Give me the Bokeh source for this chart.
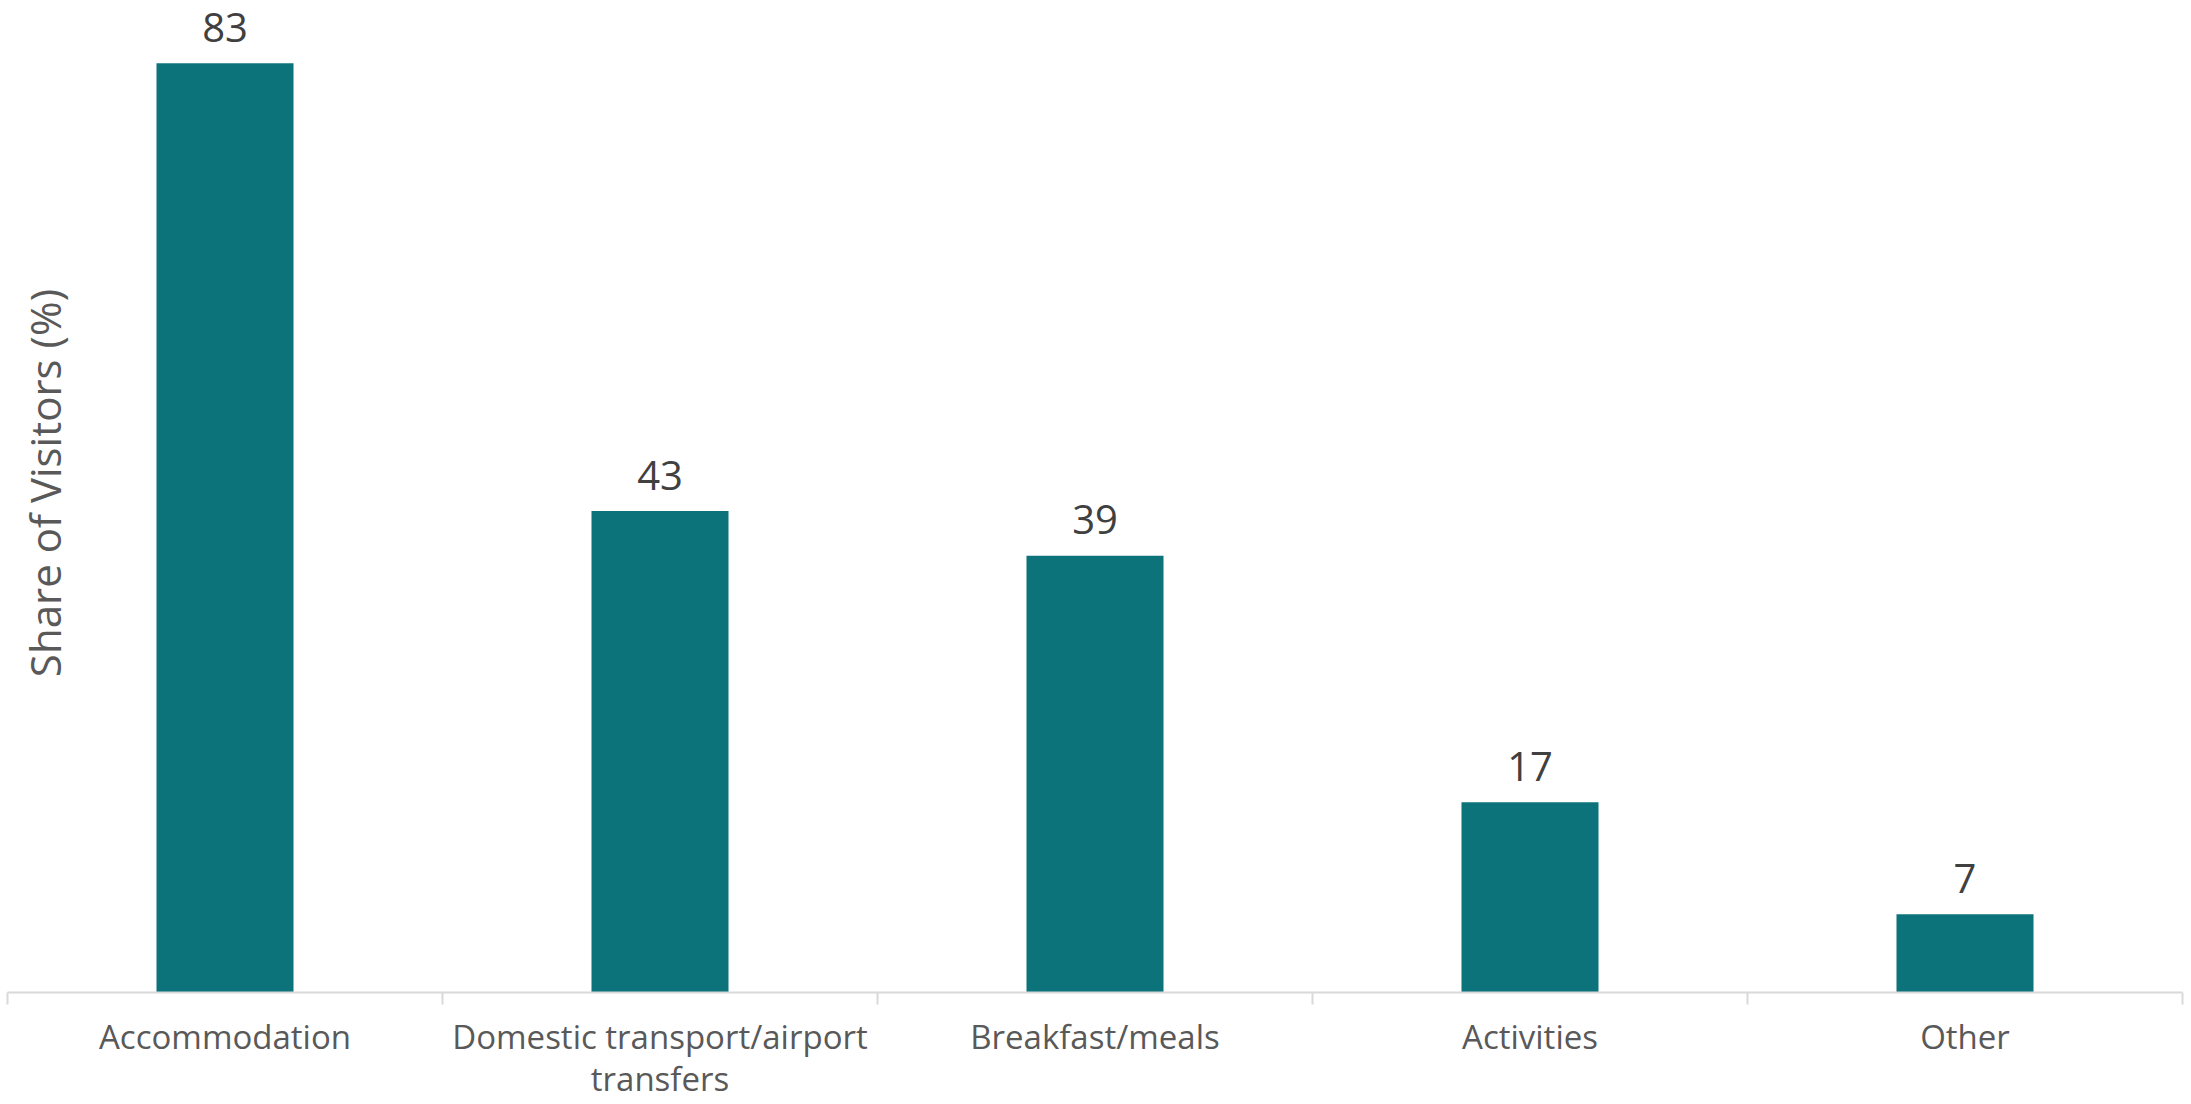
import math
from bokeh.plotting import figure
from bokeh.models import ColumnDataSource, FixedTicker, Label, Range1d
from bokeh.core.properties import value
from bokeh.embed import file_html
from bokeh.resources import INLINE

categories = ["Accommodation", "Domestic transport/airport transfers", "Breakfast/meals", "Activities", "Other"]
tick_labels = ["Accommodation", "Domestic transport/airport\ntransfers", "Breakfast/meals", "Activities", "Other"]
shares = [83, 43, 39, 17, 7]

FONT = "Open Sans"
xs = [i + 0.5 for i in range(len(categories))]
src = ColumnDataSource(dict(x=xs, top=shares, cat=categories, lbl=[str(v) for v in shares]))

p = figure(width=2191, height=1104, output_backend="svg", toolbar_location=None,
           x_range=Range1d(0, len(categories)), y_range=Range1d(0, 88.6),
           min_border_left=7, min_border_right=9, min_border_top=0, min_border_bottom=106)
p.outline_line_color = None
p.grid.visible = False
p.yaxis.visible = False

p.vbar(x="x", top="top", bottom=0, width=0.315, source=src, fill_color="#0C737B", line_color=None)
p.text(x="x", y="top", text="lbl", source=src, text_align="center", text_baseline="alphabetic",
       y_offset=-36, text_font=value(FONT), text_font_size="40px", text_color="#404040")

ax = p.xaxis[0]
ax.ticker = FixedTicker(ticks=xs, minor_ticks=list(range(len(categories) + 1)))
ax.major_label_overrides = {x: t for x, t in zip(xs, tick_labels)}
ax.major_tick_out = 0
ax.major_tick_in = 0
ax.minor_tick_out = 12
ax.minor_tick_in = 0
ax.minor_tick_line_color = "#D9D9D9"
ax.minor_tick_line_width = 2
ax.axis_line_color = "#D9D9D9"
ax.axis_line_width = 2
ax.major_label_text_font = FONT
ax.major_label_text_font_size = "33px"
ax.major_label_text_line_height = 0.95
ax.major_label_text_color = "#595959"
ax.major_label_standoff = 9

title = Label(x=0.085, y=45.5, text="Share of Visitors (%)", angle=math.pi / 2,
              text_align="center", text_baseline="middle", text_font=FONT,
              text_font_size="42px", text_color="#595959")
p.add_layout(title)

open("out.html", "w").write(file_html(p, INLINE))
